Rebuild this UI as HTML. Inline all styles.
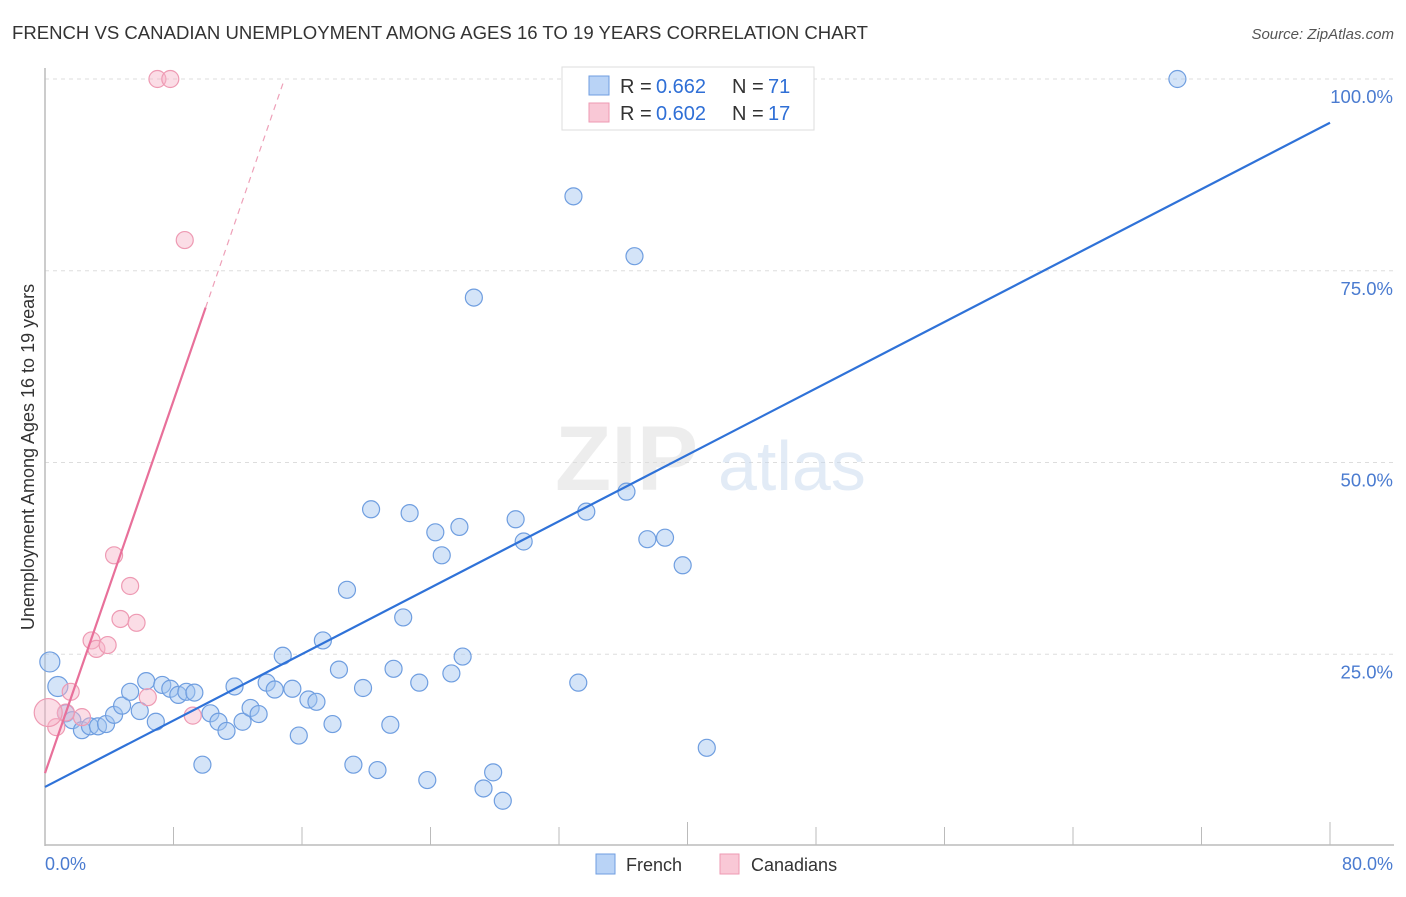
<!DOCTYPE html>
<html><head><meta charset="utf-8"><style>
body{margin:0;background:#fff;font-family:"Liberation Sans",sans-serif;}
svg text{font-family:"Liberation Sans",sans-serif;}
</style></head><body>
<svg width="1406" height="892" viewBox="0 0 1406 892" xmlns="http://www.w3.org/2000/svg">
<text x="12" y="39" font-size="18" fill="#333" textLength="856" lengthAdjust="spacingAndGlyphs">FRENCH VS CANADIAN UNEMPLOYMENT AMONG AGES 16 TO 19 YEARS CORRELATION CHART</text>
<text x="1394" y="39" font-size="15" fill="#555" text-anchor="end" font-style="italic">Source: ZipAtlas.com</text>
<g id="grid"></g>
<g opacity="0.5">
<text x="555" y="490" font-size="92" fill="#ddd" font-family="Liberation Serif" font-weight="bold">ZIP</text>
<text x="718" y="490" font-size="70" fill="#c7d8ee">atlas</text>
</g>
<line x1="45" y1="68" x2="45" y2="846" stroke="#bbb" stroke-width="1.5"/>
<line x1="45" y1="845" x2="1394" y2="845" stroke="#bbb" stroke-width="1.5"/>
<g id="ticks"></g>
<g id="pts"></g>
<g id="lines"></g>
<text transform="translate(34,457) rotate(-90)" font-size="18" fill="#333" text-anchor="middle">Unemployment Among Ages 16 to 19 years</text>
<text x="45" y="870" font-size="18" fill="#4a7bd0">0.0%</text>
<text x="1393" y="870" font-size="18" fill="#4a7bd0" text-anchor="end">80.0%</text>
<g>
<rect x="562" y="67" width="252" height="63" fill="#fff" stroke="#ddd"/>
<rect x="589" y="76" width="20" height="19" fill="#b9d3f6" stroke="#6f9ee0"/>
<rect x="589" y="103" width="20" height="19" fill="#f9c8d6" stroke="#ee9ab3"/>
<text x="620" y="93" font-size="20" fill="#333">R =</text>
<text x="656" y="93" font-size="20" fill="#2f6fd6">0.662</text>
<text x="732" y="93" font-size="20" fill="#333">N =</text>
<text x="768" y="93" font-size="20" fill="#2f6fd6">71</text>
<text x="620" y="120" font-size="20" fill="#333">R =</text>
<text x="656" y="120" font-size="20" fill="#2f6fd6">0.602</text>
<text x="732" y="120" font-size="20" fill="#333">N =</text>
<text x="768" y="120" font-size="20" fill="#2f6fd6">17</text>
</g>
<g>
<rect x="596" y="854" width="19" height="20" fill="#b9d3f6" stroke="#6f9ee0"/>
<text x="626" y="871" font-size="18" fill="#333">French</text>
<rect x="720" y="854" width="19" height="20" fill="#f9c8d6" stroke="#ee9ab3"/>
<text x="751" y="871" font-size="18" fill="#333">Canadians</text>
</g>
</svg>
<script>
const yTicks=[25,50,75,100];
const yTickLabels=["25.0%","50.0%","75.0%","100.0%"];
const xTicks=[0,8,16,24,32,40,48,56,64,72,80];
const frenchX=[0.3,0.8,1.3,1.7,2.3,2.8,3.3,3.8,4.3,4.8,5.3,5.9,6.3,6.9,7.3,7.8,8.3,8.8,9.3,9.8,10.3,10.8,11.3,11.8,12.3,12.8,13.3,13.8,14.3,14.8,15.4,15.8,16.4,16.9,17.3,17.9,18.3,18.8,19.2,19.8,20.3,20.7,21.5,21.7,22.3,22.7,23.3,23.8,24.3,24.7,25.3,25.8,26.0,26.7,27.3,27.9,28.5,29.3,29.8,32.9,33.2,33.7,36.2,36.7,37.5,38.6,39.7,41.2,43.4,70.5,38.3];
const frenchY=[24,20.8,17.3,16.4,15.1,15.6,15.6,15.9,17.1,18.3,20.1,17.6,21.5,16.2,21,20.5,19.7,20.1,20,10.6,17.3,16.2,15,20.8,16.2,18,17.2,21.3,20.4,24.8,20.5,14.4,19.1,18.8,26.8,15.9,23,33.4,10.6,20.6,43.9,9.9,15.8,23.1,29.8,43.4,21.3,8.6,40.9,37.9,22.5,41.6,24.7,71.5,7.5,9.6,5.9,42.6,39.7,84.7,21.3,43.6,46.2,76.9,40,40.2,36.6,12.8,100,100,100];
const canX=[7,7.8,8.7,4.3,5.3,4.7,5.7,2.9,3.2,3.9,1.6,6.4,9.2,2.3,1.3,0.7,0.2];
const canY=[100,100,79,37.9,33.9,29.6,29.1,26.8,25.7,26.2,20.1,19.4,17,16.8,17.4,15.5,17.4];
const canR=[8.5,8.5,8.5,8.5,8.5,8.5,8.5,8.5,8.5,8.5,8.5,8.5,8.5,8.5,8.5,8.5,14];
const blueLine=[7.7,94.3];
const pinkIntercept=9.5, pinkSlope=6.07;
const NS="http://www.w3.org/2000/svg";
const X=v=>45+v*(1285/80), Y=v=>846-v*(767/100);
function mk(t,a,p){const e=document.createElementNS(NS,t);for(const k in a)e.setAttribute(k,a[k]);document.getElementById(p).appendChild(e);return e;}
yTicks.forEach((t,i)=>{
 const l=mk('line',{x1:45,x2:1394,y1:Y(t),y2:Y(t),stroke:'#ddd','stroke-dasharray':'4,4'},'grid');
 
 
 const tx=mk('text',{x:1393,y:Y(t)+24,'font-size':18.5,fill:'#4a7bd0','text-anchor':'end'},'grid');
 tx.textContent=yTickLabels[i];
 
 
});
xTicks.forEach((t,i)=>{
 const top=(t==40||t==80)?822:827;
 const l=mk('line',{x1:X(t),x2:X(t),y1:(t==0?846:top),y2:845,stroke:'#bbb'},'ticks');
 
 
});
frenchX.forEach((v,i)=>{
 const c=mk('circle',{cx:X(v),cy:Y(frenchY[i]),r:i<2?10:8.5,fill:'rgba(160,196,240,0.45)',stroke:'#6f9ee0','stroke-width':1.2},'pts');
 
 
});
canX.forEach((v,i)=>{
 const c=mk('circle',{cx:X(v),cy:Y(canY[i]),r:canR[i],fill:'rgba(247,180,200,0.45)',stroke:'#ee9ab3','stroke-width':1.2},'pts');
 
 
});
let l=mk('line',{x1:X(0),y1:Y(blueLine[0]),x2:X(80),y2:Y(blueLine[1]),stroke:'#2f72d8','stroke-width':2.2},'lines');


l=mk('line',{x1:X(0),y1:Y(pinkIntercept),x2:X(10),y2:Y(pinkIntercept+pinkSlope*10),stroke:'#e8709a','stroke-width':2.2},'lines');


const xe=(100-pinkIntercept)/pinkSlope;
l=mk('line',{x1:X(10),y1:Y(pinkIntercept+pinkSlope*10),x2:X(xe),y2:Y(100),stroke:'#eea0b8','stroke-width':1.2,'stroke-dasharray':'6,5'},'lines');


</script>
</body></html>
